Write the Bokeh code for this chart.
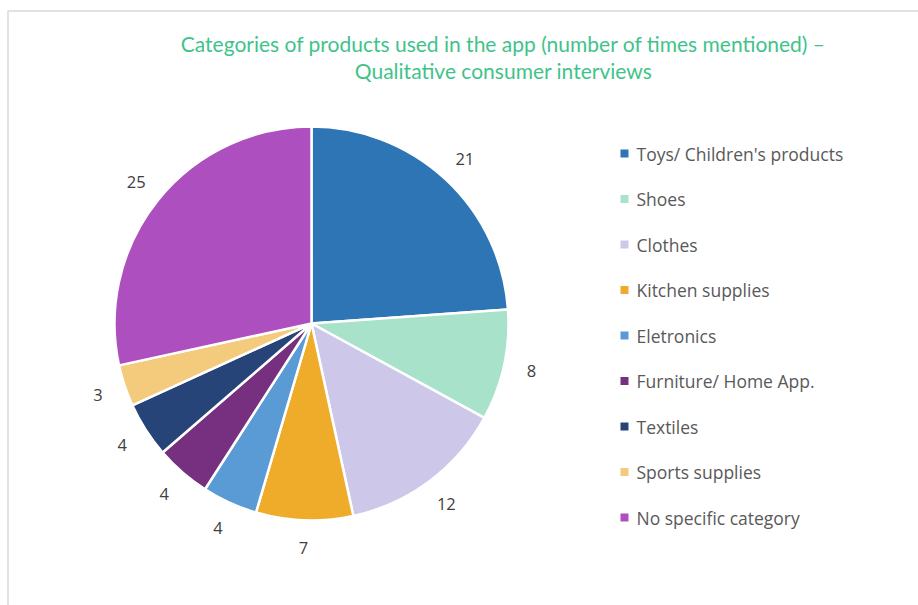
import numpy as np
from bokeh.plotting import figure
from bokeh.models import ColumnDataSource, Range1d
from bokeh.core.properties import value
from bokeh.embed import file_html
from bokeh.resources import INLINE

categories = ["Toys/ Children's products", "Shoes", "Clothes", "Kitchen supplies",
              "Eletronics", "Furniture/ Home App.", "Textiles", "Sports supplies",
              "No specific category"]
counts = [21, 8, 12, 7, 4, 4, 4, 3, 25]
colors = ["#2e75b6", "#a8e2cb", "#cdc7e9", "#efac2b", "#5b9bd5", "#772f7f",
          "#264478", "#f4cb7d", "#ad4fbe"]
title_lines = ["Categories of products used in the app (number of times mentioned) \u2013",
               "Qualitative consumer interviews"]

W, H = 918, 605
cx, cy = 311, H - 323
R = 197
LR = 225

vals = np.array(counts, dtype=float)
tot = vals.sum()
cum = np.concatenate([[0], np.cumsum(vals)])
start = np.pi / 2 - 2 * np.pi * cum[:-1] / tot
end = np.pi / 2 - 2 * np.pi * cum[1:] / tot
mid = (start + end) / 2

src = ColumnDataSource(dict(start=start, end=end, color=colors, cat=categories,
                            lx=cx + LR * np.cos(mid), ly=cy + LR * np.sin(mid),
                            lab=[str(c) for c in counts]))

p = figure(width=W, height=H, output_backend="svg", toolbar_location=None,
           x_range=Range1d(0, W), y_range=Range1d(0, H), min_border=0)
p.axis.visible = False
p.grid.visible = False
p.outline_line_color = None
p.background_fill_color = "white"

# frame border (top and left visible)
p.line(x=[7.5, 7.5, W], y=[0, H - 10.5, H - 10.5], line_color="#d9d9d9", line_width=1.5)

p.wedge(x=cx, y=cy, radius=R, start_angle="start", end_angle="end",
        direction="clock", fill_color="color", line_color="white", line_width=2.5,
        source=src)

p.text(x="lx", y="ly", text="lab", source=src, text_align="center",
       text_baseline="middle", text_font=value("Open Sans"), text_font_size="16.5px",
       text_color="#404040")

# title
p.text(x=[503, 503], y=[H - 43, H - 70], text=title_lines, text_align="center",
       text_baseline="middle", text_font=value("Lato"), text_font_size="21px",
       text_color="#3fc38b")

# legend
n = len(categories)
ly = H - (153 + 45.5 * np.arange(n))
lsrc = ColumnDataSource(dict(x=[624] * n, tx=[636] * n, y=ly, color=colors, cat=categories))
p.scatter(x="x", y="y", marker="square", size=8, fill_color="color", line_color=None,
          source=lsrc)
p.text(x="tx", y="y", text="cat", source=lsrc, text_align="left", text_baseline="middle",
       text_font=value("Open Sans"), text_font_size="17.5px", text_color="#595959")

open("out.html", "w").write(file_html(p, INLINE))
